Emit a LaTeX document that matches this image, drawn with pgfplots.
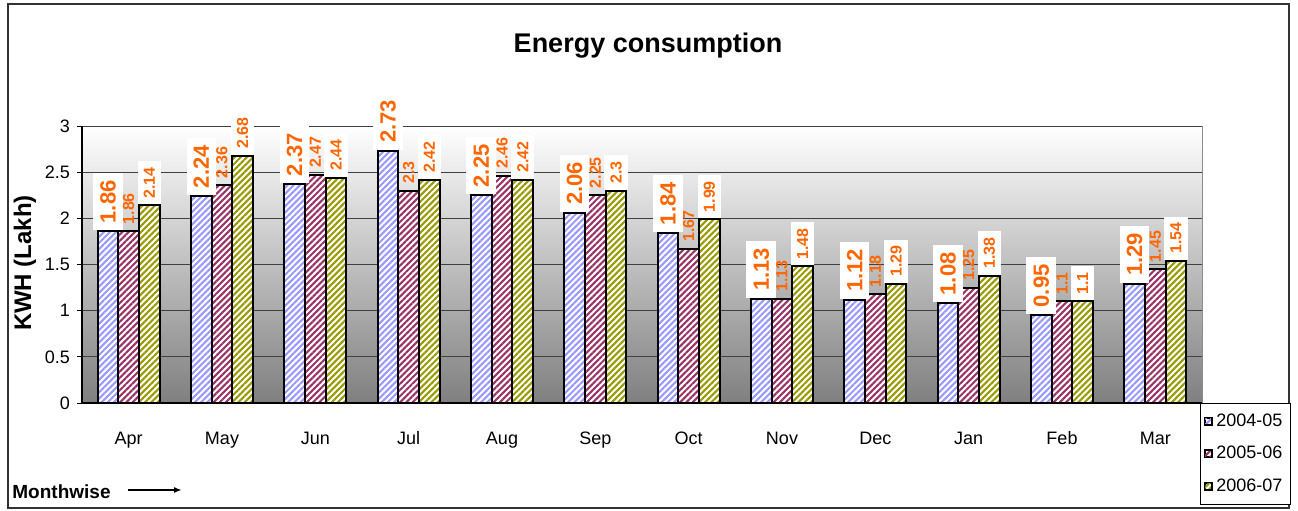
\documentclass[border=0pt]{standalone}
\usepackage{pgfplots}
\pgfplotsset{compat=1.18}
\usepackage{fontspec}
\setmainfont{Liberation Sans}
\usetikzlibrary{patterns.meta,arrows.meta}
\definecolor{sblue}{HTML}{9999FF}
\definecolor{smaroon}{HTML}{993366}
\definecolor{solive}{HTML}{999900}
\definecolor{lblorange}{HTML}{FF6600}
\tikzset{
  hatchbase/.style={preaction={fill=white}, pattern={Lines[angle=45,distance=2.2pt,line width=1.05pt]}},
  hatchA/.style={hatchbase, pattern color=sblue},
  hatchB/.style={hatchbase, pattern color=smaroon},
  hatchC/.style={hatchbase, pattern color=solive},
}
\begin{document}
\begin{tikzpicture}
\useasboundingbox (0,0) rectangle (649pt,255pt);
\draw[line width=1pt, black!80] (4pt,1pt) rectangle (644.5pt,253pt);
\begin{axis}[
  at={(41pt,53.5pt)}, anchor=south west,
  scale only axis, width=560pt, height=138.5pt,
  xmin=-0.5, xmax=11.5, ymin=0, ymax=3,
  clip=false,
  axis x line*=bottom, axis y line*=left,
  axis line style={black, line width=0.6pt},
  axis background/.style={shade, top color=white, bottom color=black!50, draw=black!45},
  ymajorgrids, grid style={black!75, line width=0.5pt},
  ytick={0,0.5,...,3},
  xtick={0,...,11},
  xticklabels={Apr,May,Jun,Jul,Aug,Sep,Oct,Nov,Dec,Jan,Feb,Mar},
  minor xtick={-0.5,0.5,...,11.5},
  tick align=outside,
  major tick length=2.5pt, minor tick length=3pt,
  xtick style={draw=none},
  minor tick style={black, line width=0.5pt},
  ytick style={black, line width=0.5pt},
  tick label style={font=\fontsize{9}{11}\selectfont},
  /pgf/number format/assume math mode=true,
  xticklabel style={anchor=base, yshift=-18pt},
  yticklabel style={anchor=east},
  ybar=0pt, bar width=0.222,
  legend style={at={(0.998,0)}, anchor=north west, draw=black, line width=0.5pt,
    font=\fontsize{9}{11}\selectfont, row sep=4.5pt, inner ysep=3pt, inner xsep=2pt,
    cells={anchor=west}},
  legend image code/.code={\draw[#1, line width=0.5pt] (0pt,-1.75pt) rectangle (3.5pt,1.75pt);},
  nodes near coords={\pgfmathprintnumber[fixed,precision=2,assume math mode=true]{\pgfplotspointmeta}},
]
\addplot[hatchA, draw=black, line width=1pt, bar shift=-0.222,
  every node near coord/.append style={font=\bfseries\fontsize{11}{13}\selectfont, text=lblorange, rotate=90, anchor=west, fill=white, draw=none, inner sep=3.5pt}]
  coordinates {(0,1.86) (1,2.24) (2,2.37) (3,2.73) (4,2.25) (5,2.06) (6,1.84) (7,1.13) (8,1.12) (9,1.08) (10,0.95) (11,1.29)};
\addplot[hatchB, draw=black, line width=1pt, bar shift=0,
  every node near coord/.append style={font=\bfseries\fontsize{8}{10}\selectfont, text=lblorange, rotate=90, anchor=west, fill=none, draw=none, inner sep=3pt}]
  coordinates {(0,1.86) (1,2.36) (2,2.47) (3,2.3) (4,2.46) (5,2.25) (6,1.67) (7,1.13) (8,1.18) (9,1.25) (10,1.1) (11,1.45)};
\addplot[hatchC, draw=black, line width=1pt, bar shift=0.222,
  every node near coord/.append style={font=\bfseries\fontsize{8}{10}\selectfont, text=lblorange, rotate=90, anchor=west, fill=white, draw=none, inner sep=3pt}]
  coordinates {(0,2.14) (1,2.68) (2,2.44) (3,2.42) (4,2.42) (5,2.3) (6,1.99) (7,1.48) (8,1.29) (9,1.38) (10,1.1) (11,1.54)};
\legend{2004-05,2005-06,2006-07}
\end{axis}
\node[anchor=base, font=\bfseries\fontsize{13.5}{16}\selectfont] at (324pt,228.5pt) {Energy consumption};
\node[rotate=90, font=\bfseries\fontsize{12}{14}\selectfont] at (12.5pt,123.5pt) {KWH (Lakh)};
\node[anchor=base west, inner sep=0pt, font=\bfseries\fontsize{9.5}{11}\selectfont] at (6pt,6pt) {Monthwise};
\draw[line width=0.8pt, -{Latex[length=4pt,width=3pt]}] (64pt,10pt) -- (91pt,10pt);
\end{tikzpicture}
\end{document}
